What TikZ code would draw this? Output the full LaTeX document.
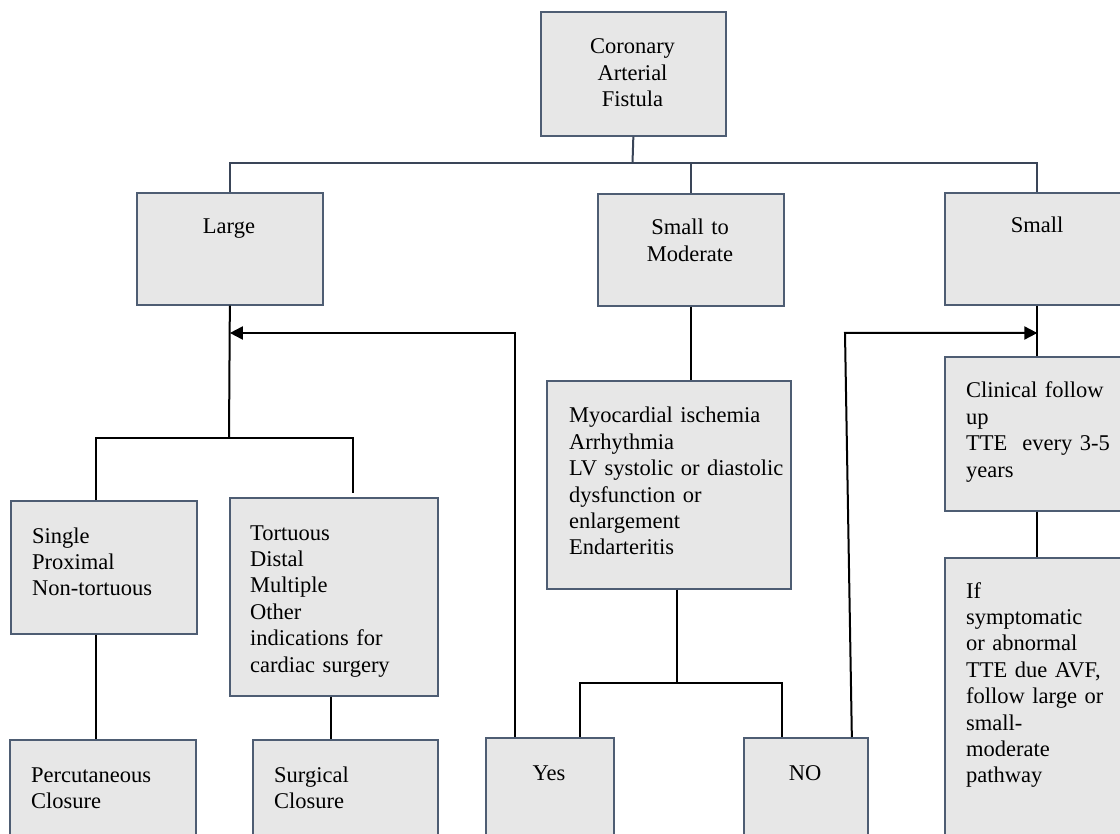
\documentclass[tikz,border=0pt]{standalone}
\usepackage{fontspec}
\setmainfont{Liberation Serif}
\usetikzlibrary{arrows.meta}
\usetikzlibrary{positioning}
\definecolor{boxfill}{HTML}{E7E7E7}
\definecolor{boxline}{HTML}{4E5D73}
\definecolor{treeline}{HTML}{3A4558}

\begin{document}
\begin{tikzpicture}[x=1pt,y=-1pt,
  box/.style={rectangle,draw=boxline,fill=boxfill,line width=1.7pt,inner sep=0pt,anchor=north west},
  ltxt/.style={inner sep=0pt,anchor=base west,align=left,text width=230pt,font=\fontsize{22.5}{26.4}\selectfont},
  ctxt/.style={inner sep=0pt,anchor=base,align=center,text width=180pt,font=\fontsize{22.5}{26.4}\selectfont},
  tree/.style={draw=treeline,line width=2pt},
  conn/.style={draw=black,line width=2pt},
  arr/.style={conn,-{Triangle[length=13pt,width=13pt]}}]
\useasboundingbox (0,0) rectangle (1120,834);
\clip (0,0) rectangle (1120,834);

\path (540,11) node[box,minimum width=185pt,minimum height=124pt] (coronary) {};
\path (136,192) node[box,minimum width=186pt,minimum height=112pt] (large) {};
\path (597,193) node[box,minimum width=186pt,minimum height=112pt] (smallmod) {};
\path (944,192) node[box,minimum width=185pt,minimum height=112pt] (small) {};
\path (546,380) node[box,minimum width=244pt,minimum height=208pt] (myo) {};
\path (944,356) node[box,minimum width=185pt,minimum height=154pt] (clinical) {};
\path (944,557) node[box,minimum width=185pt,minimum height=300pt] (ifbox) {};
\path (10,500) node[box,minimum width=186pt,minimum height=133pt] (single) {};
\path (229,497) node[box,minimum width=208pt,minimum height=198pt] (tort) {};
\path (9,739) node[box,minimum width=186pt,minimum height=120pt] (percut) {};
\path (252,739) node[box,minimum width=185pt,minimum height=120pt] (surg) {};
\path (485,737) node[box,minimum width=128pt,minimum height=120pt] (yes) {};
\path (743,737) node[box,minimum width=124pt,minimum height=120pt] (no) {};

\path (632.5,54) node[ctxt] (tcoronary) {Coronary\\Arterial\\Fistula};
\path (229,234) node[ctxt] (tlarge) {Large};
\path (690,235) node[ctxt] (tsmallmod) {Small to\\Moderate};
\path (1037,233) node[ctxt] (tsmall) {Small};
\path (569,423) node[ltxt] (tmyo) {Myocardial ischemia\\Arrhythmia\\LV systolic or diastolic\\dysfunction or\\enlargement\\Endarteritis};
\path (966,398) node[ltxt] (tclinical) {Clinical follow\\up\\TTE~ every 3-5\\years};
\path (966,598) node[ltxt] (tif) {If\\symptomatic\\or abnormal\\TTE due AVF,\\follow large or\\small-\\moderate\\pathway};
\path (32,543) node[ltxt] (tsingle) {Single\\Proximal\\Non-tortuous};
\path (250,540) node[ltxt] (ttort) {Tortuous\\Distal\\Multiple\\Other\\indications for\\cardiac surgery};
\path (31,782) node[ltxt] (tpercut) {Percutaneous\\Closure};
\path (274,782) node[ltxt] (tsurg) {Surgical\\Closure};
\path (549,780) node[ctxt] (tyes) {Yes};
\path (805,780) node[ctxt] (tno) {NO};

\coordinate (split1) at (632.5,163);
\draw[tree] (coronary.south) -- (split1);
\draw[tree] (large.north) |- (split1) -| (small.north);
\draw[tree] (split1 -| smallmod.north) -- (smallmod.north);

\coordinate (split2) at (229,438);
\draw[conn] (large.south) -- (split2);
\draw[conn] ([xshift=-8pt]single.north) |- (split2) -| ([xshift=19pt,yshift=4pt]tort.north);
\draw[conn] ([xshift=-8pt]single.south) -- ([xshift=-7pt]percut.north);
\coordinate (tortdown) at ([xshift=-3pt]tort.south);
\draw[conn] (tortdown) -- (tortdown |- surg.north);

\draw[conn] (smallmod.south) -- (smallmod.south |- myo.north);
\coordinate (split3) at (677,683);
\draw[conn] (split3 |- myo.south) -- (split3);
\draw[conn] ([xshift=30pt]yes.north) |- (split3) -| ([xshift=-24pt]no.north);

\coordinate (yesback) at (515,333);
\draw[arr] (yesback |- yes.north) -- (yesback) -- (yesback -| large.south);
\coordinate (noback) at (845,333);
\draw[arr] ([xshift=46pt]no.north) -- (noback) -- (noback -| small.south);

\draw[conn] (small.south) -- (clinical.north);
\draw[conn] (clinical.south) -- (ifbox.north);
\end{tikzpicture}
\end{document}
